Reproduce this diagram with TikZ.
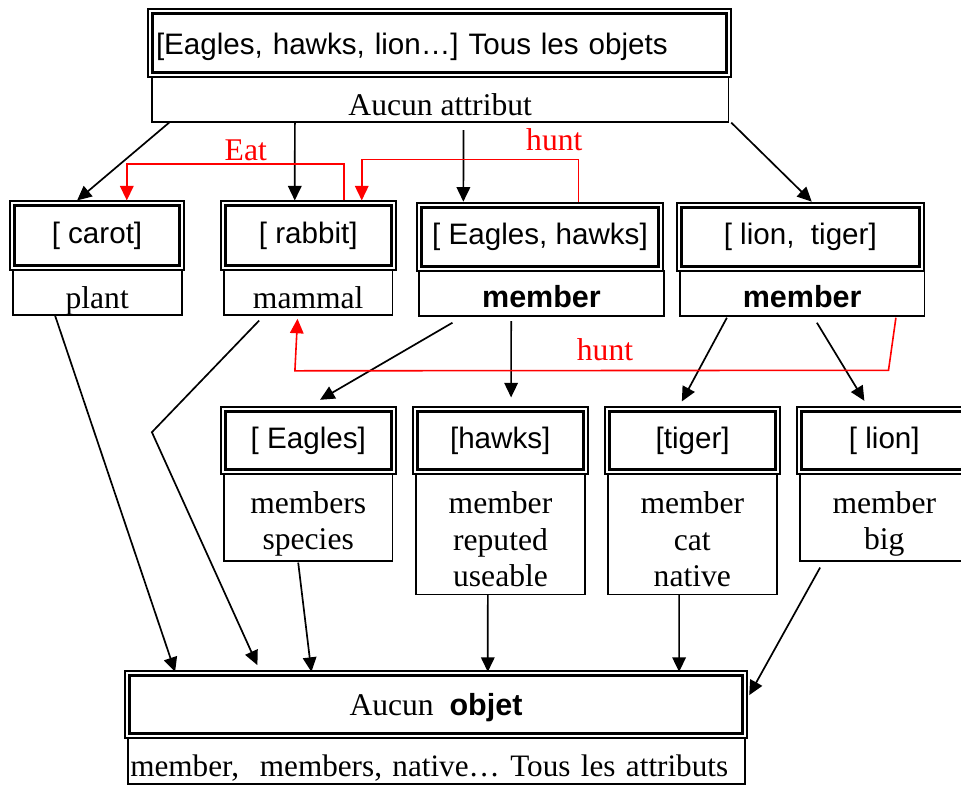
\documentclass[tikz,border=0pt]{standalone}
\usepackage{fontspec}
\setmainfont{Liberation Serif}
\setsansfont{Liberation Sans}
\usetikzlibrary{arrows.meta,calc}
\newcommand\serifT{\rmfamily\fontsize{31.6}{36.7}\selectfont}
\newcommand\serifS{\rmfamily\fontsize{31.2}{36.7}\selectfont}
\newcommand\sansT{\sffamily\fontsize{29.6}{34}\selectfont}
\newcommand\sansB{\sffamily\bfseries\fontsize{30.5}{34}\selectfont}
\begin{document}
\begin{tikzpicture}[x=1pt,y=-1pt,
  dbox/.style={draw, line width=1.8pt, inner sep=0pt, font=\sansT,
    path picture={\draw[line width=3pt] ([shift={(4.6pt,-4.6pt)}]path picture bounding box.north west) rectangle ([shift={(-4.6pt,4.6pt)}]path picture bounding box.south east);}},
  abox/.style={draw, line width=1.7pt, inner sep=0pt, font=\serifT, align=center},
  conn/.style={line width=1.7pt, -{Triangle[length=14.5pt,width=13.5pt]}},
  rel/.style={red, line width=1.6pt, -{Triangle[length=14.5pt,width=13.5pt]}},
  rlab/.style={red, font=\serifT, anchor=base, inner sep=0pt},
]
\useasboundingbox[fill=white] (0,0) rectangle (961,785);

% top
\node[dbox, minimum width=583pt, minimum height=67.4pt, text width=567pt, align=left, text height=22pt, text depth=0pt] (topT) at (439.5,43) {\mbox{[Eagles, hawks, lion…] Tous les objets}};
\node[abox, minimum width=576.3pt, minimum height=45pt, text height=31.6pt, text depth=0pt] (topA) at (440.2,99.2) {Aucun attribut};

% row 2
\node[dbox, minimum width=174pt, minimum height=68.3pt] (carotT) at (97,235.5) {[ carot]};
\node[dbox, minimum width=174.7pt, minimum height=68.3pt] (rabbitT) at (308.3,235.5) {[ rabbit]};
\node[dbox, minimum width=246.5pt, minimum height=68pt] (ehT) at (540,236.6) {[ Eagles, hawks]};
\node[dbox, minimum width=246.7pt, minimum height=68pt] (ltT) at (800.3,236.6) {[ lion,\ \ tiger]};

\node[abox, minimum width=169pt, minimum height=45.3pt, text height=31.6pt, text depth=0pt] (plantA) at (97.2,292.3) {plant};
\node[abox, minimum width=168.3pt, minimum height=45.3pt, text height=31.6pt, text depth=0pt] (mammalA) at (308.2,292.3) {mammal};
\node[abox, font=\sansB, minimum width=244.4pt, minimum height=45.5pt, text height=27.6pt, text depth=0pt] (ehA) at (541.5,293.4) {member};
\node[abox, font=\sansB, minimum width=244.3pt, minimum height=45.5pt, text height=27.6pt, text depth=0pt] (ltA) at (802.2,293.4) {member};

% row 3
\node[dbox, minimum width=174.7pt, minimum height=67.3pt] (eaglesT) at (308.3,440.35) {[ Eagles]};
\node[dbox, minimum width=175pt, minimum height=67.3pt] (hawksT) at (500.2,440.35) {[hawks]};
\node[dbox, minimum width=174.7pt, minimum height=67.3pt] (tigerT) at (692.7,440.35) {[tiger]};
\node[dbox, minimum width=174.7pt, minimum height=67.3pt] (lionT) at (884.3,440.35) {[ lion]};

\node[abox, minimum width=168.3pt, minimum height=87pt, text height=71.4pt, text depth=7pt] (eaglesA) at (308.2,517.5) {members\\species};
\node[abox, minimum width=169pt, minimum height=120.3pt, text height=112pt, text depth=7pt] (hawksA) at (500.5,534.2) {member\\reputed\\useable};
\node[abox, minimum width=168.7pt, minimum height=120.3pt, text height=112pt, text depth=7pt] (tigerA) at (692.3,534.2) {member\\cat\\native};
\node[abox, minimum width=168.7pt, minimum height=87pt, text height=71.4pt, text depth=7pt] (lionA) at (884.3,517.5) {member\\big};

% bottom
\node[dbox, font=\serifT, minimum width=622pt, minimum height=67.3pt, text height=20.6pt, text depth=0pt] (botT) at (436,704.7) {Aucun\ \ {\sansB objet}};
\node[abox, font=\serifS, minimum width=617.3pt, minimum height=45.7pt, text width=612pt, align=left, text height=31pt, text depth=0pt] (botA) at (436.3,761.2) {\mbox{member,\ \ members, native… Tous les attributs}};

% black connectors
\draw[conn] ($(topA.south west)+(18,0)$) -- ($(carotT.north west)+(68,0)$);
\draw[conn] ($(topA.south west)+(143.7,0)$) -- ($(rabbitT.north west)+(74.7,0)$);
\draw[conn] ($(topA.south west)+(312.3,7.5)$) -- ($(ehT.north west)+(47.5,0)$);
\draw[conn] ($(topA.south east)+(2,0)$) -- ($(ltT.north west)+(135.7,0)$);
\draw[conn] ($(ehA.south west)+(34,5.7)$) -- ($(eaglesT.north west)+(100,-6)$);
\draw[conn] ($(ehA.south west)+(92.7,4)$) -- ($(hawksT.north west)+(99.3,-8.4)$);
\draw[conn] ($(ltA.south west)+(47.7,0.7)$) -- ($(tigerT.north west)+(77.4,-4.4)$);
\draw[conn] ($(ltA.south west)+(137.7,5.7)$) -- ($(lionT.north west)+(68.3,-5)$);
\draw[conn] ($(plantA.south west)+(43.3,0)$) -- ($(botT.north west)+(51,1.7)$);
\draw[conn] ($(mammalA.south west)+(36,4.7)$) -- ($(mammalA.south west)+(-71.3,116.4)$) -- ($(botT.north west)+(133.3,-5)$);
\draw[conn] ($(eaglesA.south west)+(75,0.7)$) -- ($(botT.north west)+(187.3,1.7)$);
\draw[conn] ($(hawksA.south west)+(72.7,0)$) -- ($(botT.north west)+(363.7,1.7)$);
\draw[conn] ($(tigerA.south west)+(72,0)$) -- ($(botT.north west)+(555,1.7)$);
\draw[conn] ($(lionA.south west)+(21,5.7)$) -- ($(botT.north east)+(1.3,25)$);

% red relations
\draw[rel] ($(rabbitT.north west)+(124,0)$) -- ++(0,-36.4) -| ($(carotT.north west)+(117.7,0)$);
\draw[rel] ($(ehT.north west)+(162.5,0)$) -- ++(0,-42.3) -| ($(rabbitT.north west)+(141.7,0)$);
\draw[rel] ($(ltA.south west)+(216.7,0.7)$) -- ($(ltA.south west)+(209.3,53.3)$) -- ($(mammalA.south west)+(71.7,55)$) -- ($(mammalA.south west)+(74.3,3)$);

\node[rlab] (eat) at (245.8,160) {Eat};
\node[rlab] (hunt1) at (554.3,150) {hunt};
\node[rlab] (hunt2) at (605,360) {hunt};
\end{tikzpicture}
\end{document}
